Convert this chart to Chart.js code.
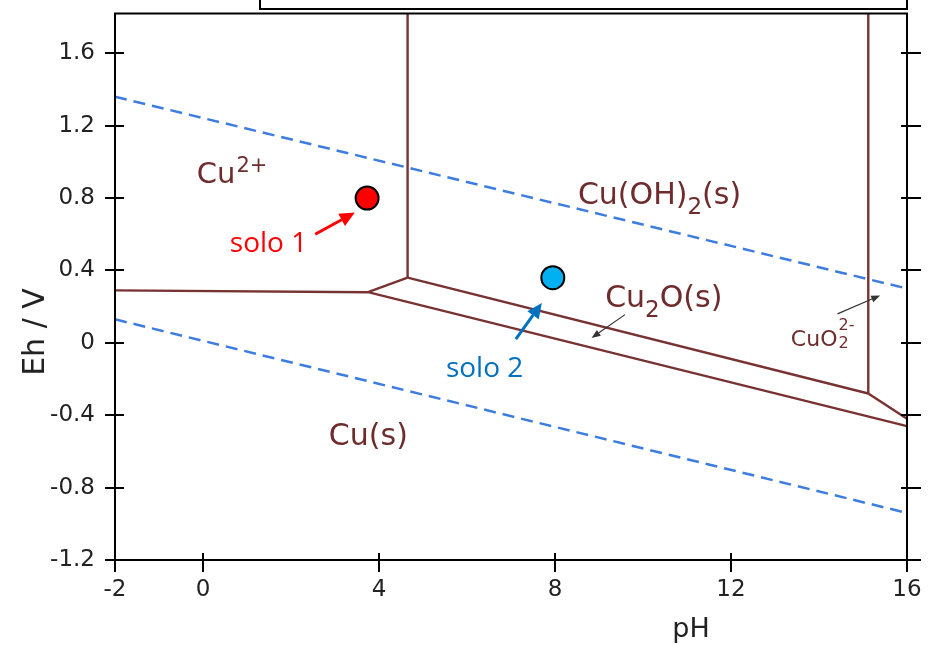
<!DOCTYPE html>
<html>
<head>
<meta charset="utf-8">
<script src="https://cdn.jsdelivr.net/npm/chart.js@4"></script>
<style>
    html, body { margin: 0; padding: 0; background: #fff; }
    #wrap { width: 932px; height: 646px; }
</style>
</head>
<body>
<div id="wrap"><canvas id="chartPourbaix" width="932" height="646"></canvas></div>
<script>
// ====== Datos (pH, Eh) ======
const xTickValues = [-2, 0, 4, 8, 12, 16];
const yTickValues = [-1.2, -0.8, -0.4, 0, 0.4, 0.8, 1.2, 1.6];

// fronteras del diagrama Cu
const cuIonToCu = [[-2, 0.29], [3.75, 0.28]];
const cuIonToCu2O = [[3.75, 0.28], [4.65, 0.36]];
const cuIonToHydroxide = [[4.65, 0.36], [4.65, 1.82]];
const hydroxideToCu2O = [[4.65, 0.36], [15.12, -0.28]];
const hydroxideToCuO2 = [[15.12, -0.28], [15.12, 1.82]];
const cuO2ToCu2O = [[15.12, -0.28], [16, -0.42]];
const cu2OToCu = [[3.75, 0.28], [16, -0.46]];

// límites de estabilidad del agua
const waterUpper = [[-2, 1.36], [16, 0.30]];
const waterLower = [[-2, 0.13], [16, -0.94]];

// muestras
const sampleNames = ["solo 1", "solo 2"];
const samplePH = [3.73, 7.95];
const sampleEh = [0.80, 0.36];

// flechas [inicio, punta]
const arrowSolo1 = [[2.55, 0.60], [3.45, 0.72]];
const arrowSolo2 = [[7.11, 0.02], [7.70, 0.22]];
const arrowCu2O = [[9.59, 0.156], [8.83, 0.027]];
const arrowCuO2 = [[14.42, 0.16], [15.39, 0.262]];

const BROWN = "#783232";
const TEXT_BROWN = "#6e2c2c";
const WATER_BLUE = "#3d7ddf";

function seg(pts, color, width, dash) {
    return {
        type: "line",
        data: pts.map(p => ({ x: p[0], y: p[1] })),
        borderColor: color,
        borderWidth: width,
        borderDash: dash || [],
        pointRadius: 0,
        fill: false,
        tension: 0,
        order: 2
    };
}

// ====== Anotaciones: etiquetas, flechas, ticks y marco ======
const labels = [
    { ph: -0.14, eh: 0.882, size: 29, color: TEXT_BROWN, parts: ["Cu", { sup: "2+" }] },
    { ph: 8.52, eh: 0.767, size: 30, color: TEXT_BROWN, parts: ["Cu(OH)", { sub: "2" }, "(s)"] },
    { ph: 9.14, eh: 0.20, size: 30, color: TEXT_BROWN, parts: ["Cu", { sub: "2" }, "O(s)"] },
    { ph: 13.36, eh: -0.018, size: 22, color: TEXT_BROWN, parts: ["CuO", { subsup: ["2", "2-"] }] },
    { ph: 2.86, eh: -0.567, size: 30, color: TEXT_BROWN, parts: ["Cu(s)"] },
    { ph: 0.61, eh: 0.50, size: 28, color: "#ff0000", family: "'Open Sans'", parts: [sampleNames[0]] },
    { ph: 5.52, eh: -0.19, size: 28, color: "#0070c0", family: "'Open Sans'", parts: [sampleNames[1]] }
];

const arrows = [
    { pts: arrowSolo1, color: "#ff0000", width: 3, head: 15, half: 7 },
    { pts: arrowSolo2, color: "#0070c0", width: 3, head: 15, half: 7 },
    { pts: arrowCu2O, color: "#333", width: 1.2, head: 9, half: 3.5 },
    { pts: arrowCuO2, color: "#333", width: 1.2, head: 9, half: 3.5 }
];

function drawRich(ctx, x, y, parts, size, color, family) {
    ctx.fillStyle = color;
    ctx.textAlign = "left";
    ctx.textBaseline = "alphabetic";
    let cx = x;
    const fam = family || "'DejaVu Sans'";
    parts.forEach(p => {
        if (typeof p === "string") {
            ctx.font = size + "px " + fam;
            ctx.fillText(p, cx, y);
            cx += ctx.measureText(p).width;
        } else if (p.sup) {
            const s = Math.round(size * 0.72);
            ctx.font = s + "px " + fam;
            ctx.fillText(p.sup, cx + 1, y - size * 0.4);
            cx += ctx.measureText(p.sup).width + 1;
        } else if (p.sub) {
            const s = Math.round(size * 0.78);
            ctx.font = s + "px " + fam;
            ctx.fillText(p.sub, cx, y + size * 0.33);
            cx += ctx.measureText(p.sub).width;
        } else if (p.subsup) {
            const s = Math.round(size * 0.72);
            ctx.font = s + "px " + fam;
            ctx.fillText(p.subsup[0], cx + 1, y + size * 0.1);
            ctx.fillText(p.subsup[1], cx + 1, y - size * 0.72);
            cx += Math.max(ctx.measureText(p.subsup[0]).width, ctx.measureText(p.subsup[1]).width) + 1;
        }
    });
}

const annotationPlugin = {
    id: "pourbaixExtras",
    afterDatasetsDraw(chart) {
        const ctx = chart.ctx;
        const xs = chart.scales.x;
        const ys = chart.scales.y;

        // flechas
        arrows.forEach(a => {
            const x0 = xs.getPixelForValue(a.pts[0][0]), y0 = ys.getPixelForValue(a.pts[0][1]);
            const x1 = xs.getPixelForValue(a.pts[1][0]), y1 = ys.getPixelForValue(a.pts[1][1]);
            const ang = Math.atan2(y1 - y0, x1 - x0);
            const bx = x1 - a.head * Math.cos(ang), by = y1 - a.head * Math.sin(ang);
            ctx.save();
            ctx.strokeStyle = a.color;
            ctx.fillStyle = a.color;
            ctx.lineWidth = a.width;
            ctx.beginPath();
            ctx.moveTo(x0, y0);
            ctx.lineTo(bx, by);
            ctx.stroke();
            ctx.beginPath();
            ctx.moveTo(x1, y1);
            ctx.lineTo(bx + a.half * Math.sin(ang), by - a.half * Math.cos(ang));
            ctx.lineTo(bx - a.half * Math.sin(ang), by + a.half * Math.cos(ang));
            ctx.closePath();
            ctx.fill();
            ctx.restore();
        });

        // etiquetas
        labels.forEach(l => {
            ctx.save();
            drawRich(ctx, xs.getPixelForValue(l.ph), ys.getPixelForValue(l.eh), l.parts, l.size, l.color, l.family);
            ctx.restore();
        });
    },
    afterDraw(chart) {
        const ctx = chart.ctx;
        const xs = chart.scales.x;
        const ys = chart.scales.y;
        const area = chart.chartArea;
        ctx.save();
        ctx.strokeStyle = "#000";
        ctx.lineWidth = 2;
        ctx.strokeRect(area.left, area.top, area.right - area.left, area.bottom - area.top);

        // ticks que cruzan los ejes
        ctx.beginPath();
        yTickValues.forEach(v => {
            const py = Math.round(ys.getPixelForValue(v));
            ctx.moveTo(area.left - 10, py); ctx.lineTo(area.left + 9, py);
            ctx.moveTo(area.right - 6, py); ctx.lineTo(area.right + 14, py);
        });
        xTickValues.forEach(v => {
            const px = Math.round(xs.getPixelForValue(v));
            ctx.moveTo(px, area.bottom - 7); ctx.lineTo(px, area.bottom + 12);
        });
        ctx.stroke();

        // recuadro superior recortado
        ctx.strokeRect(260, -4, 647, 13);

        // títulos de ejes
        ctx.fillStyle = "#222";
        ctx.font = "30px 'DejaVu Sans'";
        ctx.textAlign = "center";
        ctx.textBaseline = "alphabetic";
        ctx.save();
        ctx.translate(44, 332);
        ctx.rotate(-Math.PI / 2);
        ctx.fillText("Eh / V", 0, 0);
        ctx.restore();
        ctx.font = "27px 'DejaVu Sans'";
        ctx.fillText("pH", 691, 637);
        ctx.restore();
    }
};

window.addEventListener("DOMContentLoaded", () => {
    const ctx = document.getElementById("chartPourbaix").getContext("2d");

    new Chart(ctx, {
        type: "scatter",
        data: {
            datasets: [
                {
                    type: "scatter",
                    data: samplePH.map((v, i) => ({ x: v, y: sampleEh[i] })),
                    pointRadius: 11.5,
                    pointBackgroundColor: ["#ff0000", "#00b0f0"],
                    pointBorderColor: "#000",
                    pointBorderWidth: 2,
                    showLine: false,
                    order: 0
                },
                seg(waterUpper, WATER_BLUE, 2.5, [12, 7]),
                seg(waterLower, WATER_BLUE, 2.5, [12, 7]),
                seg(cuIonToCu, BROWN, 2.4),
                seg(cuIonToCu2O, BROWN, 2.4),
                seg(cuIonToHydroxide, BROWN, 2.4),
                seg(hydroxideToCu2O, BROWN, 2.4),
                seg(hydroxideToCuO2, BROWN, 2.4),
                seg(cuO2ToCu2O, BROWN, 2.4),
                seg(cu2OToCu, BROWN, 2.4)
            ]
        },
        options: {
            responsive: false,
            animation: false,
            clip: false,
            layout: { padding: { top: 10, right: 25, left: 0, bottom: 0 } },
            plugins: {
                legend: { display: false },
                tooltip: { enabled: false }
            },
            scales: {
                x: {
                    type: "linear",
                    min: -2,
                    max: 16,
                    afterBuildTicks: (s) => { s.ticks = xTickValues.map(v => ({ value: v })); },
                    afterFit: (s) => { s.height = 86; s.paddingLeft = 0; s.paddingRight = 0; },
                    grid: { display: false, drawTicks: false },
                    border: { display: true, color: "#000", width: 2 },
                    ticks: {
                        color: "#222",
                        font: { family: "'DejaVu Sans'", size: 23 },
                        padding: 16,
                        maxRotation: 0,
                        autoSkip: false,
                        callback: (val) => String(val)
                    }
                },
                y: {
                    type: "linear",
                    min: -1.2,
                    max: 1.82,
                    afterBuildTicks: (s) => { s.ticks = yTickValues.map(v => ({ value: v })); },
                    afterFit: (s) => { s.width = 115; s.paddingTop = 0; s.paddingBottom = 0; },
                    grid: { display: false, drawTicks: false },
                    border: { display: true, color: "#000", width: 2 },
                    ticks: {
                        color: "#222",
                        font: { family: "'DejaVu Sans'", size: 23 },
                        padding: 20,
                        autoSkip: false,
                        callback: (val) => String(val)
                    }
                }
            }
        },
        plugins: [annotationPlugin]
    });
});
</script>
</body>
</html>
